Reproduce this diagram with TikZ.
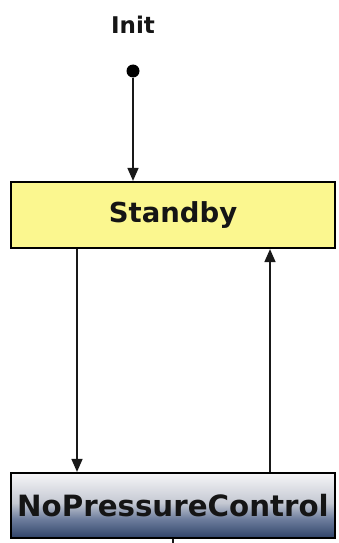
\documentclass[tikz,border=0pt]{standalone}
\usepackage{fontspec}
\setmainfont{DejaVu Sans}
\usetikzlibrary{arrows.meta}
\definecolor{sbfill}{HTML}{FBF78F}
\definecolor{txt}{HTML}{151515}
\definecolor{nA}{HTML}{2F4369}
\definecolor{nB}{HTML}{6F7F9E}
\definecolor{nC}{HTML}{C4C8D2}
\definecolor{nD}{HTML}{F6F6F8}
\pgfdeclareverticalshading{npcshade}{100bp}{color(0bp)=(nA); color(25bp)=(nA); color(40bp)=(nB); color(52bp)=(nC); color(75bp)=(nD); color(100bp)=(nD)}
\tikzset{
  statebox/.style={draw=black, line width=2.2pt, minimum width=324pt, inner sep=0pt, text=txt, font=\bfseries},
  conn/.style={draw=black!90, line width=1.6pt, -{Triangle[width=11pt,length=13pt]}},
  plain/.style={draw=black!90, line width=1.6pt}
}
\begin{document}
\begin{tikzpicture}[x=1pt,y=-1pt]
\useasboundingbox (0,0) rectangle (338,543);
\node[text=txt, font=\bfseries\fontsize{23}{26}\selectfont] (init) at (133,25) {Init};
\node[circle, fill=black, inner sep=0pt, minimum size=13pt] (dot) at (133,71) {};
\node[statebox, fill=sbfill, minimum height=66pt, font=\bfseries\fontsize{27.5}{30}\selectfont] (sb) at (173,215) {Standby};
\node[statebox, shading=npcshade, minimum height=65pt, font=\bfseries\fontsize{29.3}{32}\selectfont] (npc) at (173,505.5) {NoPressureControl};
\draw[conn] (dot) -- ([xshift=-40pt]sb.north);
\draw[conn] ([xshift=-96pt]sb.south) -- ([xshift=-96pt]npc.north);
\draw[conn] ([xshift=97pt]npc.north) -- ([xshift=97pt]sb.south);
\coordinate (stub) at (173,543);
\draw[plain] (npc.south) -- (stub);
\end{tikzpicture}
\end{document}
